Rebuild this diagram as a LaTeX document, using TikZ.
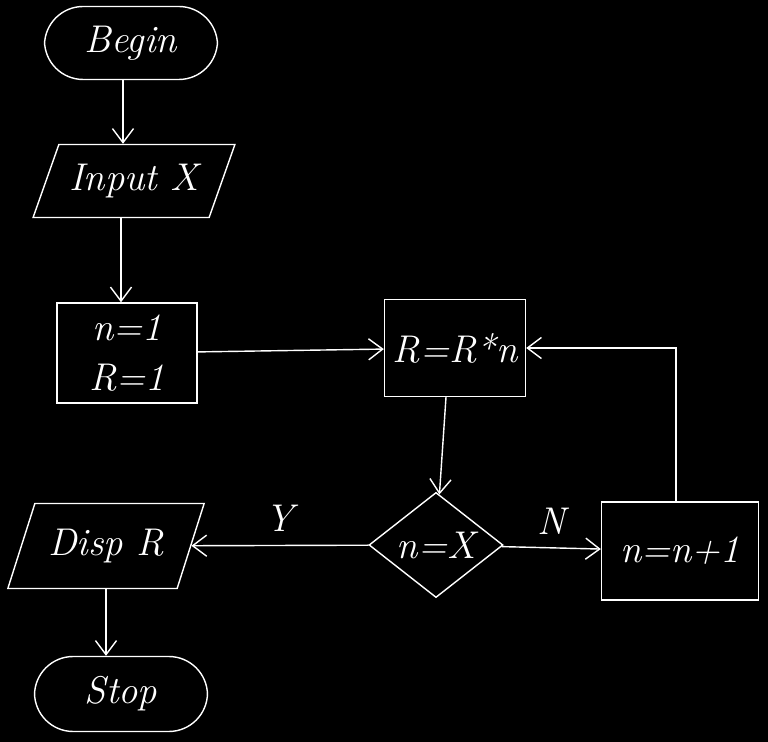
\documentclass[tikz,border=0pt]{standalone}
\usepackage{tikz}
\usetikzlibrary{positioning, arrows.meta, shapes.geometric}

\begin{document}
\begin{tikzpicture}[x=0.02cm,y=-0.02cm,
  every node/.style={text=white,font=\fontsize{22}{34}\selectfont\itshape},
  termstyle/.style={rectangle,rounded corners=22pt,draw=white,thick,minimum width=3.46cm,minimum height=1.46cm},
  iostyle/.style={trapezium,trapezium left angle=62,trapezium right angle=118,trapezium stretches=true,draw=white,thick},
  boxstyle/.style={rectangle,draw=white,thick,align=center},
  decstyle/.style={diamond,draw=white,thick,inner sep=0pt,minimum width=2.68cm,minimum height=1.96cm},
  line/.style={draw=white,thick,-{Straight Barb[length=8pt,width=12pt]}}]
  \fill[black] (0,0) rectangle (768,742);
  \useasboundingbox (0,0) rectangle (768,742);

  \node [termstyle] (begin) at (131,43) {Begin};
  \node [iostyle,minimum width=4.04cm,minimum height=1.46cm] (input) at (134,181) {Input X};
  \node [boxstyle,minimum width=2.8cm,minimum height=2cm] (init) at (127,353) {n=1\\[-6pt]R=1};
  \node [boxstyle,minimum width=2.82cm,minimum height=1.94cm] (mult) at (455,348) {R=R*n};
  \node [decstyle] (test) at (436,545) {n=X};
  \node [boxstyle,minimum width=3.14cm,minimum height=1.96cm] (incr) at (680,551) {n=n+1};
  \node [iostyle,minimum width=3.96cm,minimum height=1.7cm] (disp) at (106,546) {Disp R};
  \node [termstyle,minimum width=3.46cm,minimum height=1.5cm] (stop) at (121,694) {Stop};

  \draw [line] ([xshift=-0.16cm]begin.south) -- ([xshift=-0.16cm]begin.south |- input.north);
  \draw [line] ([xshift=-0.12cm]init.north |- input.south) -- ([xshift=-0.12cm]init.north);
  \draw [line] (init) -- (mult);
  \draw [line] ([xshift=-0.18cm]mult.south) -- (test);
  \draw [line] (test) -- node [above=4pt] {N} (incr);
  \draw [line] (test) -- node [above=4pt] {Y} (disp);
  \draw [line] ([xshift=-0.08cm]incr.north) |- (mult.east);
  \draw [line] (disp.south) -- (disp.south |- stop.north);
\end{tikzpicture}
\end{document}
